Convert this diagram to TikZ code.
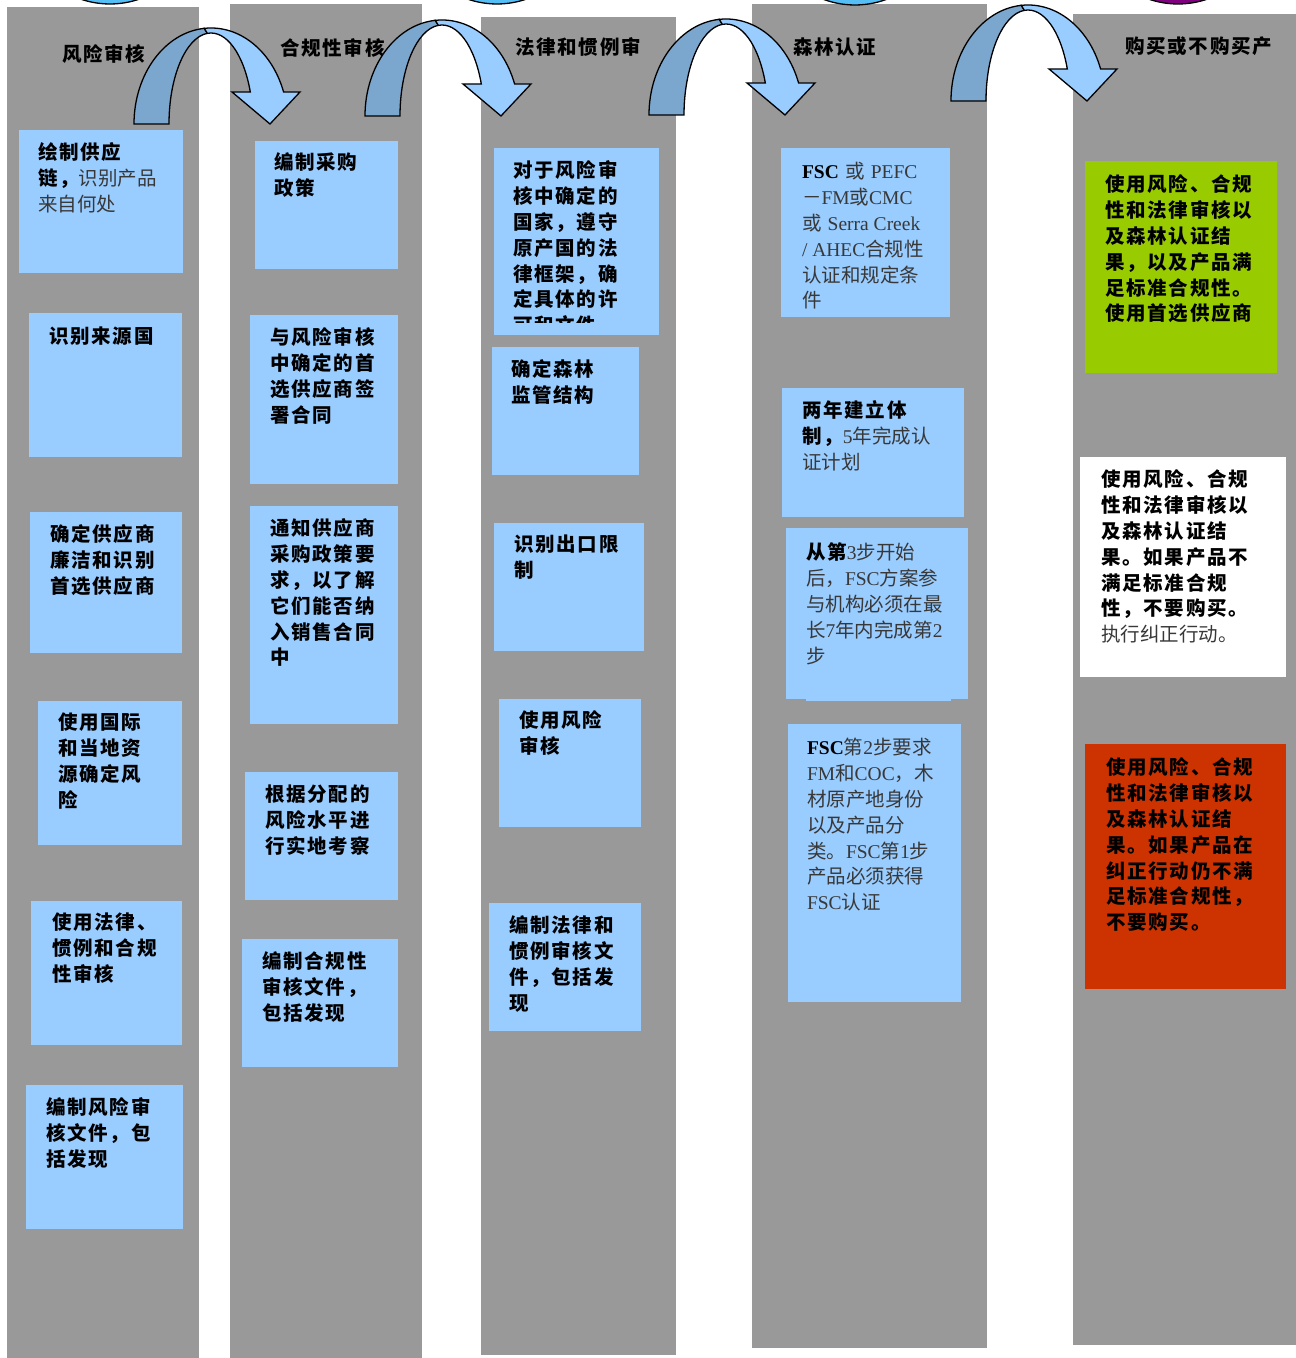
\documentclass[tikz,border=0pt]{standalone}
\usepackage{fontspec}
\setmainfont{Liberation Serif}
\newfontfamily\hei[LetterSpace=9]{Noto Sans CJK SC}
\newfontfamily\song{Noto Sans CJK SC}
\definecolor{textGray}{gray}{0.22}
\newcommand{\lns}[1]{\begin{tabular}[t]{@{}l@{}}#1\end{tabular}}
\newcommand{\zhReg}{\song\mdseries\color{textGray}}
\newcommand{\latReg}{\rmfamily\mdseries\color{textGray}}
\newcommand{\latBold}{\rmfamily\bfseries\color{black}}
\begin{document}
\begin{tikzpicture}[x=1pt,y=1pt,
  boxtext/.style={anchor=base west,inner sep=0pt,outer sep=0pt,font=\hei\bfseries\fontsize{19.5}{25.8}\selectfont},
  titletext/.style={anchor=base west,inner sep=0pt,outer sep=0pt,font=\hei\bfseries\fontsize{19.5}{25.8}\selectfont},
  arrowline/.style={draw=black,line width=1.3pt}]
\definecolor{fillColor}{RGB}{255,255,255}
\path[use as bounding box,fill=fillColor] (0,0) rectangle (1296,1358);

% lanes
\definecolor{fillColor}{RGB}{153,153,153}
\path[fill=fillColor] (   7,  0) rectangle ( 199,1351);
\path[fill=fillColor] ( 230,  0) rectangle ( 422,1354);
\path[fill=fillColor] ( 481,  3) rectangle ( 676,1341);
\path[fill=fillColor] ( 752, 10) rectangle ( 987,1354);
\path[fill=fillColor] (1073, 13) rectangle (1296,1344);

% lane titles
\node[titletext] (tRisk) at (  62,1296) {风险审核};
\node[titletext] (tComp) at ( 280,1302) {合规性审核};
\node[titletext] (tLaw) at ( 515,1303) {法律和惯例审};
\node[titletext] (tForest) at ( 793,1303) {森林认证};
\node[titletext] (tBuy) at (1125,1304) {购买或不购买产};

% step boxes
\definecolor{fillColor}{RGB}{153,204,255}
\path[fill=fillColor] (  19,1085) rectangle ( 183,1228);
\path[fill=fillColor] (  29, 901) rectangle ( 182,1045);
\path[fill=fillColor] (  30, 705) rectangle ( 182, 846);
\path[fill=fillColor] (  38, 513) rectangle ( 182, 657);
\path[fill=fillColor] (  31, 313) rectangle ( 182, 457);
\path[fill=fillColor] (  26, 129) rectangle ( 183, 273);

\path[fill=fillColor] ( 255,1089) rectangle ( 398,1217);
\path[fill=fillColor] ( 250, 874) rectangle ( 398,1043);
\path[fill=fillColor] ( 250, 634) rectangle ( 398, 852);
\path[fill=fillColor] ( 245, 458) rectangle ( 398, 586);
\path[fill=fillColor] ( 242, 291) rectangle ( 398, 419);

\path[fill=fillColor] ( 494,1023) rectangle ( 659,1210);
\path[fill=fillColor] ( 492, 883) rectangle ( 639,1011);
\path[fill=fillColor] ( 494, 707) rectangle ( 644, 835);
\path[fill=fillColor] ( 499, 531) rectangle ( 641, 659);
\path[fill=fillColor] ( 489, 327) rectangle ( 641, 455);

\path[fill=fillColor] ( 781,1041) rectangle ( 950,1210);
\path[fill=fillColor] ( 782, 841) rectangle ( 964, 970);
\path[fill=fillColor] ( 786, 659) rectangle ( 968, 830);
\path[fill=fillColor] ( 806, 657) rectangle ( 951, 830);
\path[fill=fillColor] ( 788, 356) rectangle ( 961, 634);

\definecolor{fillColor}{RGB}{153,204,0}
\path[fill=fillColor] (1085, 985) rectangle (1277,1197);
\definecolor{fillColor}{RGB}{255,255,255}
\path[fill=fillColor] (1080, 681) rectangle (1286, 901);
\definecolor{fillColor}{RGB}{204,51,0}
\path[fill=fillColor] (1085, 369) rectangle (1286, 614);

% box texts
\node[boxtext] (risk1) at (  38,1198) {\lns{绘制供应\\链，{\zhReg 识别产品}\\{\zhReg 来自何处}}};
\node[boxtext] (risk2) at (  49,1014) {\lns{识别来源国}};
\node[boxtext] (risk3) at (  50, 816) {\lns{确定供应商\\廉洁和识别\\首选供应商}};
\node[boxtext] (risk4) at (  58, 628) {\lns{使用国际\\和当地资\\源确定风\\险}};
\node[boxtext] (risk5) at (  52, 428) {\lns{使用法律、\\惯例和合规\\性审核}};
\node[boxtext] (risk6) at (  46, 243) {\lns{编制风险审\\核文件，包\\括发现}};

\node[boxtext] (comp1) at ( 274,1188) {\lns{编制采购\\政策}};
\node[boxtext] (comp2) at ( 270,1013) {\lns{与风险审核\\中确定的首\\选供应商签\\署合同}};
\node[boxtext] (comp3) at ( 270, 822) {\lns{通知供应商\\采购政策要\\求，以了解\\它们能否纳\\入销售合同\\中}};
\node[boxtext] (comp4) at ( 265, 556) {\lns{根据分配的\\风险水平进\\行实地考察}};
\node[boxtext] (comp5) at ( 262, 389) {\lns{编制合规性\\审核文件，\\包括发现}};

\begin{scope}
\path[clip] ( 494,1035) rectangle ( 659,1210);
\node[boxtext] (law1) at ( 513,1180) {\lns{对于风险审\\核中确定的\\国家，遵守\\原产国的法\\律框架，确\\定具体的许\\可和文件}};
\end{scope}
\node[boxtext] (law2) at ( 511, 981) {\lns{确定森林\\监管结构}};
\node[boxtext] (law3) at ( 514, 806) {\lns{识别出口限\\制}};
\node[boxtext] (law4) at ( 519, 630) {\lns{使用风险\\审核}};
\node[boxtext] (law5) at ( 509, 425) {\lns{编制法律和\\惯例审核文\\件，包括发\\现}};

\node[boxtext] (forest1) at ( 802,1179) {\lns{{\latBold FSC} {\zhReg 或} {\latReg PEFC}\\{\zhReg －}{\latReg FM}{\zhReg 或}{\latReg CMC}\\{\zhReg 或} {\latReg Serra Creek}\\{\latReg / AHEC}{\zhReg 合规性}\\{\zhReg 认证和规定条}\\{\zhReg 件}}};
\node[boxtext] (forest2) at ( 802, 940) {\lns{两年建立体\\制，{\latReg 5}{\zhReg 年完成认}\\{\zhReg 证计划}}};
\node[boxtext] (forest3) at ( 806, 798) {\lns{从第{\latReg 3}{\zhReg 步开始}\\{\zhReg 后，}{\latReg FSC}{\zhReg 方案参}\\{\zhReg 与机构必须在最}\\{\zhReg 长}{\latReg 7}{\zhReg 年内完成第}{\latReg 2}\\{\zhReg 步}}};
\node[boxtext] (forest4) at ( 807, 603) {\lns{{\latBold FSC}{\zhReg 第}{\latReg 2}{\zhReg 步要求}\\{\latReg FM}{\zhReg 和}{\latReg COC}{\zhReg ，木}\\{\zhReg 材原产地身份}\\{\zhReg 以及产品分}\\{\zhReg 类。}{\latReg FSC}{\zhReg 第}{\latReg 1}{\zhReg 步}\\{\zhReg 产品必须获得}\\{\latReg FSC}{\zhReg 认证}}};

\node[boxtext] (buyYes) at (1105,1166) {\lns{使用风险、合规\\性和法律审核以\\及森林认证结\\果，以及产品满\\足标准合规性。\\使用首选供应商}};
\node[boxtext] (buyFix) at (1101, 871) {\lns{使用风险、合规\\性和法律审核以\\及森林认证结\\果。如果产品不\\满足标准合规\\性，不要购买。\\{\zhReg 执行纠正行动。}}};
\node[boxtext] (buyNo) at (1106, 583) {\lns{使用风险、合规\\性和法律审核以\\及森林认证结\\果。如果产品在\\纠正行动仍不满\\足标准合规性，\\不要购买。}};

% bent arrows between lanes
\definecolor{drawColor}{RGB}{0,0,0}
\definecolor{darkColor}{RGB}{123,166,206}
\definecolor{lightColor}{RGB}{153,204,255}
\begin{scope}[shift={(211,1234)}]
\path[arrowline,fill=darkColor] (-77,0) arc[start angle=180,end angle=95,x radius=77pt,y radius=96pt] -- (-3.66,90.65) arc[start angle=95,end angle=180,x radius=42pt,y radius=91pt] -- cycle;
\path[arrowline,fill=lightColor] (-6.71,95.63) arc[start angle=95,end angle=19.5,x radius=77pt,y radius=96pt] -- (89,32) -- (59,0) -- (21,32) -- (39.31,32) arc[start angle=20.6,end angle=95,x radius=42pt,y radius=91pt] -- cycle;
\end{scope}
\begin{scope}[shift={(442,1242)}]
\path[arrowline,fill=darkColor] (-77,0) arc[start angle=180,end angle=95,x radius=77pt,y radius=96pt] -- (-3.66,90.65) arc[start angle=95,end angle=180,x radius=42pt,y radius=91pt] -- cycle;
\path[arrowline,fill=lightColor] (-6.71,95.63) arc[start angle=95,end angle=19.5,x radius=77pt,y radius=96pt] -- (89,32) -- (59,0) -- (21,32) -- (39.31,32) arc[start angle=20.6,end angle=95,x radius=42pt,y radius=91pt] -- cycle;
\end{scope}
\begin{scope}[shift={(726,1243)}]
\path[arrowline,fill=darkColor] (-77,0) arc[start angle=180,end angle=95,x radius=77pt,y radius=96pt] -- (-3.66,90.65) arc[start angle=95,end angle=180,x radius=42pt,y radius=91pt] -- cycle;
\path[arrowline,fill=lightColor] (-6.71,95.63) arc[start angle=95,end angle=19.5,x radius=77pt,y radius=96pt] -- (89,32) -- (59,0) -- (21,32) -- (39.31,32) arc[start angle=20.6,end angle=95,x radius=42pt,y radius=91pt] -- cycle;
\end{scope}
\begin{scope}[shift={(1028,1257)}]
\path[arrowline,fill=darkColor] (-77,0) arc[start angle=180,end angle=95,x radius=77pt,y radius=96pt] -- (-3.66,90.65) arc[start angle=95,end angle=180,x radius=42pt,y radius=91pt] -- cycle;
\path[arrowline,fill=lightColor] (-6.71,95.63) arc[start angle=95,end angle=19.5,x radius=77pt,y radius=96pt] -- (89,32) -- (59,0) -- (21,32) -- (39.31,32) arc[start angle=20.6,end angle=95,x radius=42pt,y radius=91pt] -- cycle;
\end{scope}

% discs cut by the top edge
\begin{scope}
\path[clip] (0,0) rectangle (1296,1358);
\definecolor{fillColor}{RGB}{85,190,245}
\path[draw=drawColor,line width=1.3pt,fill=fillColor] ( 110,1444) circle[radius=90pt];
\path[draw=drawColor,line width=1.3pt,fill=fillColor] ( 497,1444) circle[radius=90pt];
\path[draw=drawColor,line width=1.3pt,fill=fillColor] ( 855,1443) circle[radius=90pt];
\definecolor{fillColor}{RGB}{128,0,128}
\path[draw=drawColor,line width=1.3pt,fill=fillColor] (1178,1444) circle[radius=90pt];
\end{scope}
\end{tikzpicture}
\end{document}
